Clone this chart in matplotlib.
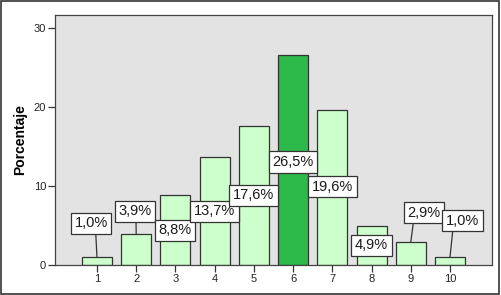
import matplotlib
matplotlib.use("Agg")
import matplotlib.pyplot as plt
from matplotlib.patches import Rectangle

plt.rcParams['font.family'] = ['Liberation Sans', 'DejaVu Sans']

categories = [1, 2, 3, 4, 5, 6, 7, 8, 9, 10]
values = [1.0, 3.9, 8.8, 13.7, 17.6, 26.5, 19.6, 4.9, 2.9, 1.0]
labels = ["1,0%", "3,9%", "8,8%", "13,7%", "17,6%", "26,5%", "19,6%", "4,9%", "2,9%", "1,0%"]
label_x = [0.85, 1.97, 2.99, 4.0, 4.99, 6.0, 7.0, 8.0, 9.33, 10.32]
label_y = [5.25, 6.8, 4.4, 6.8, 8.8, 13.0, 9.9, 2.5, 6.6, 5.6]
yticks = [0, 10, 20, 30]

light = "#CCFFCC"
dark = "#2DB84A"
colors = [dark if v == max(values) else light for v in values]

fig = plt.figure(figsize=(5.01, 2.95), dpi=100)
fig.patch.set_facecolor("white")
fig.patches.append(Rectangle((0.001, 0.002), 0.996, 0.995, transform=fig.transFigure,
                             fill=False, edgecolor="#333333", linewidth=1.2))
ax = fig.add_axes([0.1098, 0.1017, 0.8722, 0.8475])
ax.set_facecolor("#E3E3E3")
ax.bar(categories, values, width=0.765, color=colors, edgecolor="#333333", linewidth=0.9, zorder=2)
ax.set_xlim(-0.07, 11.07)
ax.set_ylim(0, 31.6)
ax.set_xticks(categories)
ax.set_xticklabels([str(c) for c in categories])
ax.set_yticks(yticks)
ax.tick_params(axis="both", direction="out", length=5, width=0.9, color="#333333",
               labelsize=8, labelcolor="#222222", pad=1.5)
for s in ax.spines.values():
    s.set_color("#444444")
    s.set_linewidth(0.9)
ax.set_ylabel("Porcentaje", fontsize=10, fontweight="bold", labelpad=5)

for x, v, t, lx, ly in zip(categories, values, labels, label_x, label_y):
    if ly > v + 1.2:
        sx = x + 0.3 * (lx - x)
        ax.plot([sx, x], [ly, v], color="#333333", linewidth=0.9, zorder=3)
    ax.text(lx, ly, t, ha="center", va="center", fontsize=10.5, color="#1a1a1a", zorder=4,
            bbox=dict(boxstyle="square,pad=0.25", facecolor="white", edgecolor="#333333", linewidth=0.9))

fig.savefig("out.png", dpi=100)
